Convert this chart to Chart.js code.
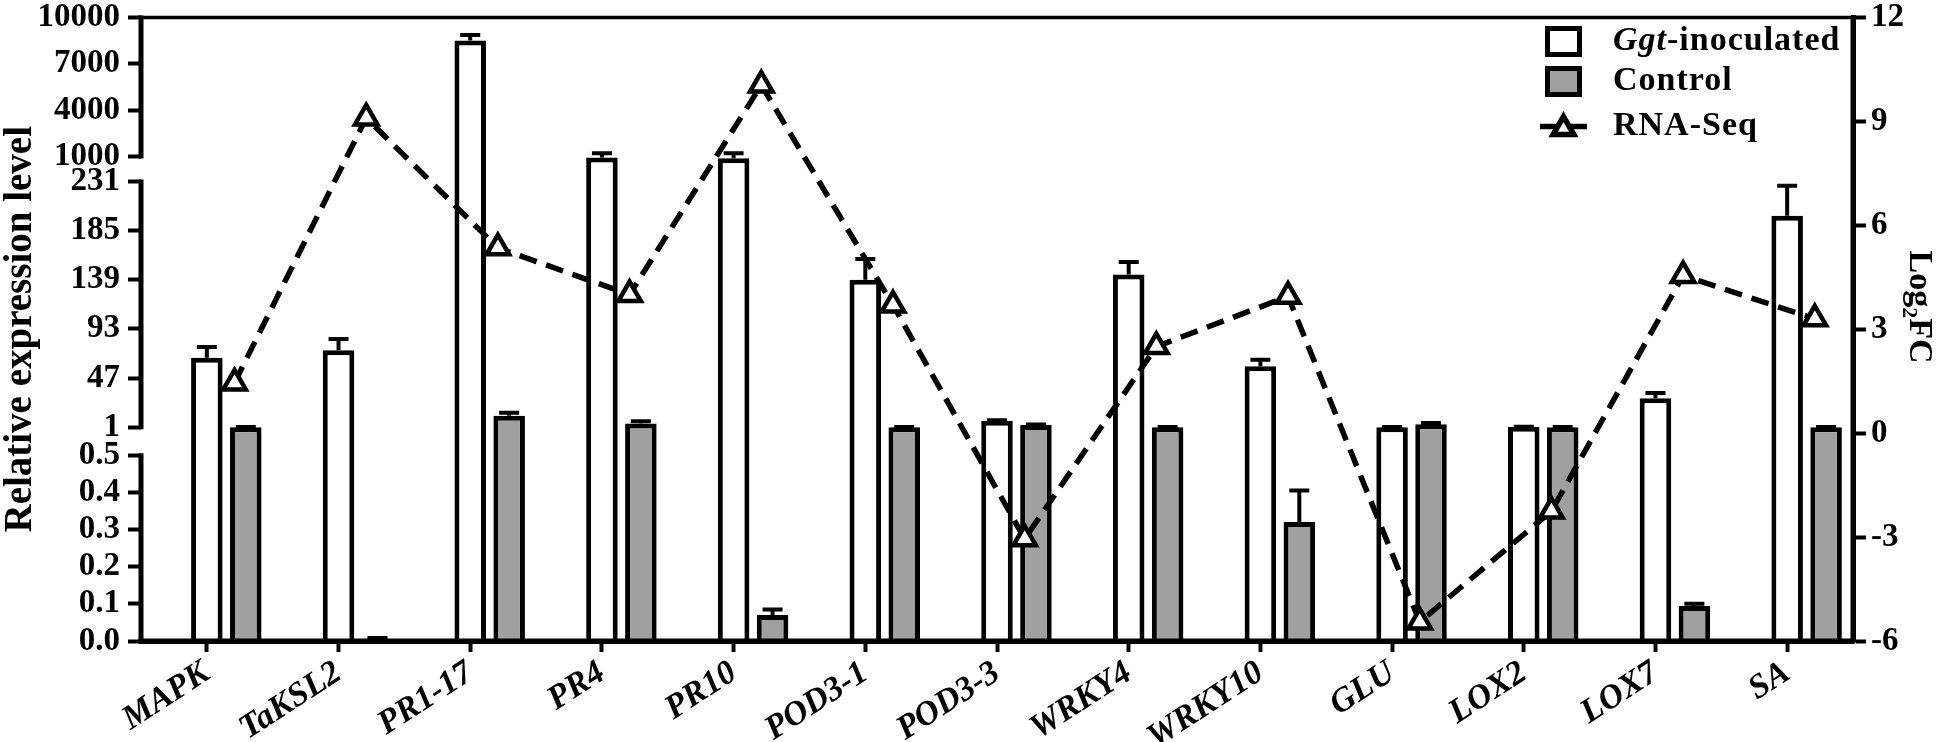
<!DOCTYPE html>
<html>
<head>
<meta charset="utf-8">
<script src="https://cdn.jsdelivr.net/npm/chart.js@4.4.1/dist/chart.umd.min.js"></script>
<style>
  html, body { margin: 0; padding: 0; background: #fff; }
  #wrap { width: 1946px; height: 742px; position: relative; }
</style>
</head>
<body>
<div id="wrap"><canvas id="qpcrChart"></canvas></div>
<script>
// genes on the x axis
const genes = ['MAPK', 'TaKSL2', 'PR1-17', 'PR4', 'PR10', 'POD3-1', 'POD3-3', 'WRKY4', 'WRKY10', 'GLU', 'LOX2', 'LOX7', 'SA'];

// qRT-PCR relative expression (mean, error)
const ggtValues = [66, 73, 8510, 970, 945, 139, 7, 144, 58, 1, 1.3, 28, 199];
const ggtErrors = [10, 10.5, 350, 240, 260, 19.5, 0.5, 11.7, 6, 0.1, 0.1, 5, 28];
const controlValues = [1, 0.005, 11.7, 4.5, 0.07, 1, 2.9, 1, 0.32, 3.8, 1, 0.094, 1];
const controlErrors = [0.1, 0.003, 2.7, 2, 0.015, 0.1, 0.5, 0.1, 0.085, 1, 0.1, 0.006, 0.1];

// RNA-Seq log2 fold change (right axis)
const rnaSeqLog2FC = [1.45, 9.1, 5.35, 4.0, 10.05, 3.7, -3.05, 2.5, 3.95, -5.45, -2.25, 4.55, 3.3];

// left axis ticks
const yTickValues = [0, 0.1, 0.2, 0.3, 0.4, 0.5, 1, 47, 93, 139, 185, 231, 1000, 4000, 7000, 10000];
const yTickLabels = ['0.0', '0.1', '0.2', '0.3', '0.4', '0.5', '1', '47', '93', '139', '185', '231', '1000', '4000', '7000', '10000'];

// broken axis: value -> fraction of the plot height, and the drawn pieces of the axis line
const yBreaks = [[0, 0], [0.5, 0.298], [1, 0.343], [231, 0.737], [1000, 0.777], [10000, 1]];
const yAxisPieces = [[0, 0.5], [1, 231], [1000, 10000]];
const lineShift = 0.21; // RNA-Seq points sit between the two bars of a gene

function breakFrac(v) {
    for (let i = 1; i < yBreaks.length; i++) {
        const [v0, f0] = yBreaks[i - 1];
        const [v1, f1] = yBreaks[i];
        if (v <= v1 || i === yBreaks.length - 1) return f0 + (v - v0) / (v1 - v0) * (f1 - f0);
    }
}
function breakValue(f) {
    for (let i = 1; i < yBreaks.length; i++) {
        const [v0, f0] = yBreaks[i - 1];
        const [v1, f1] = yBreaks[i];
        if (f <= f1 || i === yBreaks.length - 1) return v0 + (f - f0) / (f1 - f0) * (v1 - v0);
    }
}

class BrokenScale extends Chart.LinearScale {
    determineDataLimits() {
        this.min = yBreaks[0][0];
        this.max = yBreaks[yBreaks.length - 1][0];
    }
    buildTicks() {
        return yTickValues.map(v => ({ value: v }));
    }
    getPixelForValue(value) {
        return this.bottom - breakFrac(value) * (this.bottom - this.top);
    }
    getValueForPixel(pixel) {
        return breakValue((this.bottom - pixel) / (this.bottom - this.top));
    }
}
BrokenScale.id = 'broken';
BrokenScale.defaults = Chart.LinearScale.defaults;
Chart.register(BrokenScale);

Chart.defaults.font.family = "'Liberation Serif', 'Times New Roman', serif";
Chart.defaults.color = '#000';

const tickFont = { size: 33, weight: 'bold' };
const noPad = s => { s.paddingTop = 0; s.paddingBottom = 0; s.paddingLeft = 0; s.paddingRight = 0; };

// error bars on top of each bar
const errorBars = {
    id: 'errorBars',
    afterDatasetDraw(chart, args) {
        const ds = chart.data.datasets[args.index];
        if (!ds.errors) return;
        const ctx = chart.ctx;
        const yScale = chart.scales.y;
        ctx.save();
        ctx.strokeStyle = '#000';
        ctx.lineWidth = 4;
        args.meta.data.forEach((bar, i) => {
            const v = ds.data[i].y;
            const e = ds.errors[i];
            if (v == null || !e) return;
            const yBar = yScale.getPixelForValue(v);
            const yTop = yScale.getPixelForValue(v + e);
            ctx.beginPath();
            ctx.moveTo(bar.x, yBar);
            ctx.lineTo(bar.x, yTop);
            ctx.moveTo(bar.x - 10, yTop);
            ctx.lineTo(bar.x + 10, yTop);
            ctx.stroke();
        });
        ctx.restore();
    }
};

// frame with the broken left axis
const frame = {
    id: 'frame',
    afterDatasetsDraw(chart) {
        const { ctx, chartArea: a } = chart;
        const yScale = chart.scales.y;
        ctx.save();
        ctx.strokeStyle = '#000';
        ctx.lineWidth = 5;
        yAxisPieces.forEach(([lo, hi]) => {
            ctx.beginPath();
            ctx.moveTo(a.left, yScale.getPixelForValue(lo) + 2);
            ctx.lineTo(a.left, yScale.getPixelForValue(hi) - 2);
            ctx.stroke();
        });
        ctx.beginPath();
        ctx.moveTo(a.left - 2.5, a.bottom);
        ctx.lineTo(a.right + 2.5, a.bottom);
        ctx.moveTo(a.right, a.bottom);
        ctx.lineTo(a.right, a.top);
        ctx.stroke();
        ctx.lineWidth = 3.5;
        ctx.beginPath();
        ctx.moveTo(a.left - 2.5, a.top);
        ctx.lineTo(a.right + 2.5, a.top);
        ctx.stroke();
        ctx.restore();
    }
};

// legend and right axis title
const extras = {
    id: 'extras',
    afterDraw(chart) {
        const { ctx, chartArea: a } = chart;
        const fam = Chart.defaults.font.family;
        ctx.save();
        const bx = a.right - 308;
        const rows = [a.top + 24, a.top + 64, a.top + 109];
        const fills = ['#ffffff', '#a0a0a0'];
        ctx.lineWidth = 5;
        ctx.strokeStyle = '#000';
        fills.forEach((f, i) => {
            ctx.fillStyle = f;
            ctx.fillRect(bx + 2.5, rows[i] - 13, 32, 26);
            ctx.strokeRect(bx + 2.5, rows[i] - 13, 32, 26);
        });
        ctx.lineWidth = 5.5;
        ctx.beginPath();
        ctx.moveTo(bx - 5, rows[2]);
        ctx.lineTo(bx + 42, rows[2]);
        ctx.stroke();
        ctx.fillStyle = '#fff';
        Chart.helpers.drawPoint(ctx, {
            pointStyle: 'triangle', radius: 12, borderWidth: 4.5
        }, bx + 18.5, rows[2] + 2);

        ctx.fillStyle = '#000';
        ctx.textBaseline = 'middle';
        ctx.textAlign = 'left';
        ctx.letterSpacing = '1px';
        const tx = a.right - 240;
        ctx.font = `italic bold 34px ${fam}`;
        ctx.fillText('Ggt', tx, rows[0]);
        const w = ctx.measureText('Ggt').width;
        ctx.font = `bold 34px ${fam}`;
        ctx.fillText('-inoculated', tx + w, rows[0]);
        ctx.fillText('Control', tx, rows[1]);
        ctx.fillText('RNA-Seq', tx, rows[2]);
        ctx.letterSpacing = '0px';

        // Log2FC title
        ctx.translate(1921, 307);
        ctx.rotate(Math.PI / 2);
        const big = `bold 34px ${fam}`;
        const small = `bold 22px ${fam}`;
        ctx.font = big;
        const wLog = ctx.measureText('Log').width;
        const wFC = ctx.measureText('FC').width;
        ctx.font = small;
        const w2 = ctx.measureText('2').width;
        let x = -(wLog + w2 + wFC) / 2;
        ctx.textBaseline = 'alphabetic';
        ctx.font = big;
        ctx.fillText('Log', x, 11);
        x += wLog;
        ctx.font = small;
        ctx.fillText('2', x, 18);
        x += w2;
        ctx.font = big;
        ctx.fillText('FC', x, 11);
        ctx.restore();
    }
};

const ctx = document.getElementById('qpcrChart').getContext('2d');

new Chart(ctx, {
    type: 'bar',
    data: {
        datasets: [
            {
                type: 'line',
                label: 'RNA-Seq',
                data: genes.map((g, i) => ({ x: i + lineShift, y: rnaSeqLog2FC[i] })),
                yAxisID: 'y2',
                order: 0,
                borderColor: '#000',
                borderWidth: 5.5,
                borderDash: [18, 10],
                tension: 0,
                pointStyle: 'triangle',
                pointRadius: 13,
                pointBorderWidth: 4.5,
                pointBackgroundColor: '#fff',
                pointBorderColor: '#000',
            },
            {
                // empty slot left of the white bar so the white bar sits on the tick
                label: '',
                data: genes.map((g, i) => ({ x: i, y: null })),
                order: 1,
                borderWidth: 0,
            },
            {
                label: 'Ggt-inoculated',
                data: genes.map((g, i) => ({ x: i, y: ggtValues[i] })),
                errors: ggtErrors,
                order: 1,
                backgroundColor: '#ffffff',
                borderColor: '#000',
                borderWidth: 5,
            },
            {
                label: 'Control',
                data: genes.map((g, i) => ({ x: i, y: controlValues[i] })),
                errors: controlErrors,
                order: 1,
                backgroundColor: '#a0a0a0',
                borderColor: '#000',
                borderWidth: 5,
            },
        ],
    },
    options: {
        responsive: true,
        maintainAspectRatio: false,
        animation: false,
        layout: { padding: { top: 14, left: 0, right: 0, bottom: 0 } },
        datasets: {
            bar: { categoryPercentage: 0.887, barPercentage: 0.81 },
        },
        plugins: {
            legend: { display: false },
            tooltip: { enabled: false },
        },
        scales: {
            x: {
                type: 'linear',
                offset: false,
                min: -0.5,
                max: genes.length - 0.5,
                border: { display: true, width: 5, color: '#000' },
                grid: { offset: false, drawOnChartArea: false, tickLength: 11, tickWidth: 4, tickColor: '#000' },
                afterBuildTicks: s => { s.ticks = genes.map((g, i) => ({ value: i })); },
                ticks: {
                    font: { size: 34, weight: 'bold', style: 'italic' },
                    minRotation: 33,
                    maxRotation: 33,
                    padding: 1,
                    autoSkip: false,
                    callback: v => genes[v],
                },
                afterFit: s => { s.height = 101; noPad(s); },
            },
            y: {
                type: 'broken',
                position: 'left',
                border: { display: false },
                grid: { drawOnChartArea: false, tickLength: 13, tickWidth: 4, tickColor: '#000' },
                ticks: {
                    autoSkip: false,
                    padding: 8,
                    font: tickFont,
                    callback: (v, i) => yTickLabels[i],
                },
                title: {
                    display: true,
                    text: 'Relative expression level',
                    font: { size: 39, weight: 'bold', lineHeight: 1 },
                    padding: { top: 1, bottom: 0 },
                },
                afterFit: s => { s.width = 141; noPad(s); },
            },
            y2: {
                position: 'right',
                min: -6,
                max: 12,
                border: { display: true, width: 5, color: '#000' },
                grid: { drawOnChartArea: false, tickLength: 13, tickWidth: 4, tickColor: '#000' },
                ticks: { stepSize: 3, font: tickFont, padding: 5 },
                afterFit: s => { s.width = 93; noPad(s); },
            },
        },
    },
    plugins: [errorBars, frame, extras],
});
</script>
</body>
</html>
